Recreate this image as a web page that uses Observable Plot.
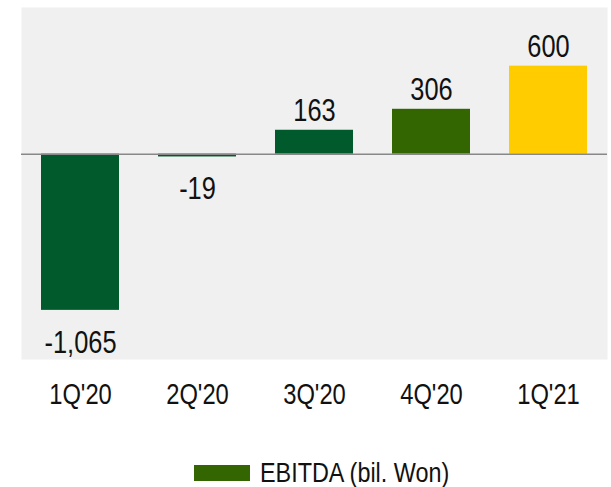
<!DOCTYPE html>
<html>
<head>
<meta charset="utf-8">
<script src="https://cdn.jsdelivr.net/npm/d3@7"></script>
<script src="https://cdn.jsdelivr.net/npm/@observablehq/plot@0.6"></script>
<style>
  body { margin: 0; background: #fff; font-family: "Liberation Sans", Arial, sans-serif; }
  #chart svg { display: block; }
  #legend { position: relative; height: 57px; }
  #legend .sw { position: absolute; left: 194px; top: 35px; width: 56px; height: 16px; background: #336600; }
  #legend span { position: absolute; left: 260px; top: 27px; font-size: 28.5px; line-height: 30px; color: #111;
                 transform: scaleX(0.82); transform-origin: 0 50%; white-space: nowrap; }
</style>
</head>
<body>
<div id="chart"></div>
<div id="legend"><div class="sw"></div><span>EBITDA (bil. Won)</span></div>
<script>
const quarters = ["1Q'20", "2Q'20", "3Q'20", "4Q'20", "1Q'21"];
const ebitda = [-1065, -19, 163, 306, 600];
const barColors = ["#005a2b", "#005a2b", "#005a2b", "#336600", "#ffcc00"];

const data = quarters.map((q, i) => ({q, v: ebitda[i]}));
const fmt = v => v.toLocaleString("en-US");
const FONT = "'Liberation Sans', Arial, sans-serif";

const chart = Plot.plot({
  width: 611,
  height: 430,
  marginLeft: 21,
  marginRight: 4,
  marginTop: 7,
  marginBottom: 71,
  style: {fontFamily: FONT, fontSize: "29px", color: "#111", background: "#fff"},
  x: {domain: quarters, paddingInner: 0.333, paddingOuter: 0.1667, label: null, tickSize: 0, tickPadding: 24},
  y: {domain: [-1400, 1000], axis: null},
  color: {domain: quarters, range: barColors},
  marks: [
    Plot.frame({fill: "#f0f0f0", stroke: null}),
    Plot.barY(data, {x: "q", y: "v", fill: "q"}),
    Plot.ruleY([0], {stroke: "#888", strokeWidth: 1.5}),
    Plot.text(data.filter(d => d.v >= 0), {x: "q", y: "v", text: d => fmt(d.v), lineAnchor: "bottom", dy: -9, fontSize: 31, fill: "#111"}),
    Plot.text(data.filter(d => d.v < 0), {x: "q", y: "v", text: d => fmt(d.v), lineAnchor: "top", dy: 20.5, fontSize: 31, fill: "#111"})
  ]
});

// Arial Narrow look: Liberation Sans condensed horizontally to 82%
chart.querySelectorAll("text").forEach(t => {
  const x = t.getAttribute("x");
  let tr = t.getAttribute("transform") || "";
  if (x !== null && !x.endsWith("em")) {
    tr = `${tr} translate(${x},0)`;
    t.setAttribute("x", 0);
  }
  t.setAttribute("transform", `${tr} scale(0.82,1)`);
});

document.getElementById("chart").appendChild(chart);
</script>
</body>
</html>
